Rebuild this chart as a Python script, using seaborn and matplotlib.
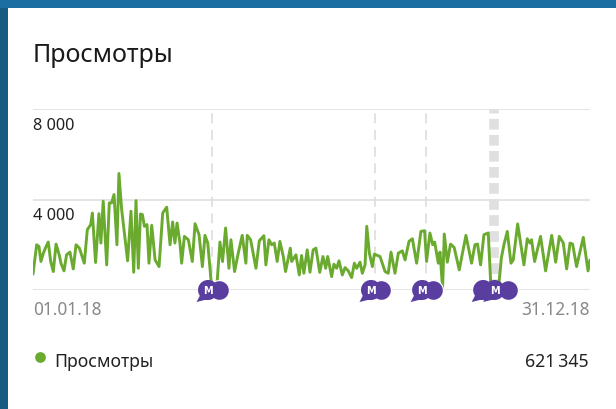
import matplotlib
matplotlib.use("Agg")
import matplotlib.pyplot as plt
import pandas as pd
import seaborn as sns
from matplotlib.patches import Rectangle
from matplotlib.path import Path
from matplotlib.transforms import ScaledTranslation

days = [0, 2.4, 3.9, 5.2, 6.8, 8.3, 10, 11.6, 13.3, 15.1, 17.3, 18.3, 20.3, 22, 24.2, 26.4, 28.2, 30.4, 33.6, 35.6,
        37.8, 38.9, 41, 43.2, 44.5, 46, 48.3, 50, 51.5, 53.1, 55, 56.3, 58.1, 62, 64.2, 66, 67.5, 69, 70.4, 71.7,
        73, 74.7, 76, 77.8, 80, 82.6, 85, 87.6, 89.8, 91.5, 93, 94.4, 96.3, 97.4, 99.2, 101.8, 104.4, 106.2, 108.8,
        111, 112.7, 114.5, 117.1, 120.4, 122.5, 124.2, 126.2, 128.4, 129.7, 132.1, 134.5, 137.1, 139.5, 140.4,
        142.6, 146.1, 148.3, 151.3, 152.6, 154.6, 156.4, 158.1, 160, 161.8, 164, 165.5, 168.6, 169.5, 172.3, 174.5,
        176, 177.5, 179.7, 181.5, 183.6, 185.4, 187.9, 190, 191.8, 193.1, 195.7, 197.2, 199, 200.5, 202.7, 204.5,
        206.6, 208.8, 210.6, 212.1, 214.3, 215.8, 217.6, 218.7, 220.4, 222.4, 223.7, 227.4, 230.7, 232.8, 234.6,
        237.2, 239.4, 242, 243.8, 246.4, 248.6, 251.4, 254.2, 256.6, 257.9, 260.1, 261.9, 263.2, 265.6, 266.7,
        268.4, 269.5, 271.5, 273.6, 276, 279.3, 283.7, 287.4, 289.6, 291.3, 293.3, 295.5, 298.3, 300.1, 305.1,
        306.9, 308.6, 310.8, 313.2, 314.7, 317.6, 321.7, 323.9, 325.7, 326.7, 328.7, 332.6, 335.9, 339.9, 342.5,
        344.9, 347.5, 349.7, 351.9, 353.6, 356.2, 360.6, 363.7, 365]
views = [700, 2000, 1925, 1260, 1630, 1880, 2120, 1260, 815, 2030, 1525, 1185, 845, 1555, 1675, 930, 2000, 1850, 1185, 2665,
         2890, 3400, 1215, 3375, 2075, 3925, 1110, 3850, 3850, 4220, 2000, 5150, 3555, 1290, 3480, 785, 3950, 960, 3360, 3330,
         2815, 2890, 1185, 2860, 1330, 1035, 3405, 3660, 2000, 3005, 2075, 2960, 2075, 1185, 2370, 2220, 1260, 2930, 2445,
         1035, 2415, 2075, 100, 100, 2120, 1260, 2740, 960, 2220, 815, 1630, 2415, 1185, 2415,
         2220, 960, 2175, 2400, 1110, 2220, 2000, 2075, 1260, 2150, 1480, 815, 1850, 1260, 1555, 666,
         1525, 740, 1775, 785, 1775, 1850, 780, 1480, 960, 1480, 590, 1140, 960, 1290, 666, 990,
         845, 550, 1185, 960, 1230, 740, 1110, 2815, 1630, 1035, 1585, 1480, 815, 740, 1675,
         740, 1630, 1730, 1330, 2150, 2265, 1185, 2590, 2620, 1260, 2520, 2000, 2120, 1185, 1675,
         75, 2475, 1230, 2030, 1880, 890, 2415, 1185, 2000, 2030, 1110, 2445, 2520, 100, 100,
         1415, 2000, 2590, 1185, 1330, 2920, 1110, 2265, 2075, 2220, 1260, 2370, 845, 2415, 1230,
         2370, 2075, 930, 2075, 2030, 1035, 2325, 845, 1330]
y_ticks = [0, 4000, 8000]
y_labels = ["", "4 000", "8 000"]
x_ticks = [0, 365]
x_labels = ["01.01.18", "31.12.18"]
thin_events = [117.3, 224.1, 257.5]
wide_events = [302]
front_bubbles = [114.7, 221.5, 255, 295, 302.5]
labelled_bubbles = [114.7, 221.5, 255, 302.5]
back_bubbles = [122, 228, 262, 311]
series_name = "Просмотры"
total_label = "621\u2009345"

W, H = 616, 410
sns.set_theme(style="white")
plt.rcParams["font.family"] = ["Noto Sans", "DejaVu Sans"]
fig = plt.figure(figsize=(W / 100, H / 100), dpi=100, facecolor="white")
fig.add_artist(Rectangle((0, 0), 8 / W, 1, transform=fig.transFigure, color="#175a82", lw=0))
fig.add_artist(Rectangle((0, 1 - 9 / H), 1, 9 / H, transform=fig.transFigure, color="#1a6ea2", lw=0))

ax = fig.add_axes([33 / W, (H - 291) / H, (590 - 33) / W, (291 - 110) / H])
ax.set_facecolor("none")
df = pd.DataFrame({"day": days, "views": views})
for d in thin_events:
    ax.axvline(d, color="#dddddd", lw=1.2, dashes=(6, 4), zorder=1)
for d in wide_events:
    ax.axvline(d, color="#e0e0e0", lw=7, dashes=(1.1, 0.55), zorder=1)
sns.lineplot(data=df, x="day", y="views", color="#6aaa2f", lw=2.1, ax=ax, zorder=3, estimator=None, sort=False,
             solid_joinstyle="round")

ax.set_xlim(0, 365)
ax.set_ylim(0, 8000)
ax.set_xlabel("")
ax.set_ylabel("")
ax.set_yticks(y_ticks, y_labels)
ax.set_xticks(x_ticks, x_labels)
ax.grid(axis="y", color="#dfdfdf", lw=1.2, zorder=0)
ax.grid(axis="x", visible=False)
sns.despine(ax=ax, left=True, bottom=True, top=True, right=True)
ax.tick_params(axis="y", length=0, pad=0, labelsize=11.8, labelcolor="#222222")
ax.tick_params(axis="x", length=0, pad=7.5, labelsize=12.4, labelcolor="#888888")
shift = ScaledTranslation(0, -5.5 / 72, fig.dpi_scale_trans)
for lab in ax.get_yticklabels():
    lab.set_ha("left")
    lab.set_va("top")
    lab.set_transform(lab.get_transform() + shift)
xl = ax.get_xticklabels()
xl[0].set_ha("left")
xl[1].set_ha("right")

tail = [(-0.75, -0.45), (-1.15, -1.2), (-0.15, -0.95), (-0.75, -0.45)]
bubble = Path.make_compound_path(Path.unit_circle(), Path(tail, closed=True))
ax.scatter(back_bubbles, [0] * len(back_bubbles), s=205, color="#5a3e9f", edgecolors="white", lw=0.9, clip_on=False, zorder=5)
ax.scatter(front_bubbles, [0] * len(front_bubbles), s=300, marker=bubble, color="#5a3e9f", edgecolors="none", clip_on=False, zorder=6)
for d in labelled_bubbles:
    ax.text(d, 0, "M", color="white", fontsize=7, fontweight="bold", family="DejaVu Sans", ha="center", va="center", zorder=7, clip_on=False)

fig.text(33 / W, 1 - 55 / H, series_name, fontsize=18, color="#1a1a1a", va="center", ha="left")
fig.text(54.5 / W, 1 - 362 / H, series_name, fontsize=12.7, color="#222222", va="center", ha="left")
fig.text(589 / W, 1 - 362 / H, total_label, fontsize=12.7, color="#222222", va="center", ha="right")
dot = fig.add_axes([34.5 / W, 1 - 363.5 / H, 11 / W, 11 / H])
dot.axis("off")
dot.set_xlim(-1, 1); dot.set_ylim(-1, 1)
dot.scatter([0], [0], s=45, color="#6aaa2f")

fig.savefig("out.png", dpi=100)
